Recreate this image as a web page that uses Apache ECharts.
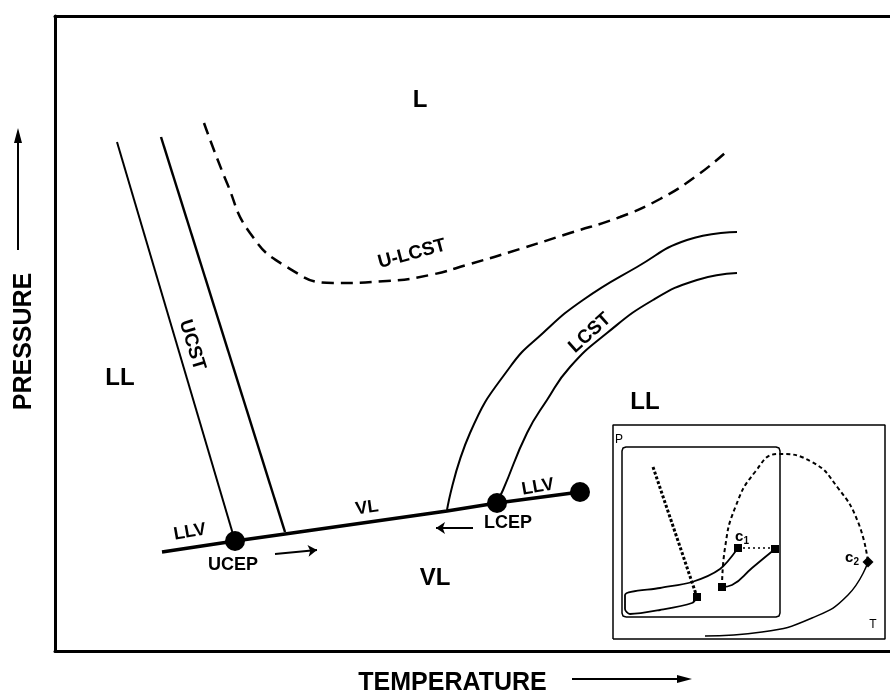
<!DOCTYPE html>
<html>
<head>
<meta charset="utf-8">
<script src="https://cdn.jsdelivr.net/npm/echarts@6/dist/echarts.min.js"></script>
<style>
html, body { margin: 0; padding: 0; background: #fff; }
#main { width: 890px; height: 692px; }
</style>
</head>
<body>
<div id="main"></div>
<script>
// 示意相图：温度 T（横轴）、压力 P（纵轴），单位为示意单位，无刻度
var threePhase = [[107,99],[180,110],[230,117],[392,140],[442,148],[525,159]];
var ucstLeft   = [[62,509],[180,110]];
var ucstRight  = [[106,514],[230,119]];
var ulcst      = [[149,528],[172,468],[195,418],[232,384],[278,368],[332,370],[375,376],[415,387],
                  [465,402],[515,418],[565,434],[605,452],[640,474],[670,498]];
var lcstOuter  = [[392,141],[415,218],[455,284],[488,318],[528,351],[582,384],[632,411],[682,419]];
var lcstInner  = [[442,149],[448,161],[472,218],[492,251],[515,284],[552,318],[598,351],[642,371],[682,378]];
var endPoints  = [[180,110],[442,148],[525,159]];   // UCEP, LCEP, 终点

// 小图 (inset)
var insetBox   = [[558,12],[830,12],[830,226],[558,226],[558,12]];
var insetInner = [[571,34],[721,34],[724,35],[725,38],[725,200],[724,203],[721,204],[571,204],
                  [568,203],[567,200],[567,38],[568,35],[571,34]];
var insetDotted = [[598,184],[642,54]];
var insetBand  = [[683,103],[665,82],[637,69],[605,63],[570,56],[570,42],[575,37],[605,41],[637,48],[642,54]];
var insetDome  = [[667,64],[670,103],[680,143],[700,179],[723,197],[757,189],[783,163],[803,129],[813,89]];
var insetSmall = [[667,64],[677,66],[697,83],[720,102]];
var insetTie   = [[683,103],[720,103]];
var insetC2    = [[813,89],[793,56],[757,33],[707,19],[650,15]];
var insetSquares = [[642,54],[667,64],[720,102],[683,103]];
var insetC2Pt  = [[813,89]];

// 文字标签 [文本, T, P, 旋转角]
var regionLabels = [['L',365,551,0],['LL',65,273,0],['LL',590,249,0],['VL',380,73,0]];
var curveLabels  = [['U-LCST',357,397,15],['UCST',137,306,-73],['LCST',535,318,42]];
var smallLabels  = [['LLV',135,119,10],['VL',312,143,8],['UCEP',178,86,0],['LCEP',453,128,0],['LLV',483,164,10]];
var insetLabels  = [['P',564,211],['T',818,26]];
var critLabels   = [['1',687,114],['2',797,93]];
var shiftArrows  = [[[220,97],[262,101]],[[418,123],[381,123]]];

var FONT = '"Liberation Sans", Arial, sans-serif';
var INK = '#000';

function line(data, width, type, smooth) {
    return {
        type: 'line', data: data, showSymbol: false, smooth: smooth || false,
        lineStyle: { color: INK, width: width, type: type || 'solid', opacity: 1 },
        silent: true, z: 3
    };
}

function textItems(list, size, weight) {
    return list.map(function (d) {
        return {
            value: [d[1], d[2]],
            label: {
                show: true, position: 'inside', formatter: d[0], rotate: d[3] || 0,
                fontSize: size, fontWeight: weight, fontFamily: FONT, color: INK, opacity: 1
            }
        };
    });
}

var critItems = critLabels.map(function (d) {
    return {
        value: [d[1], d[2]],
        label: {
            show: true, position: 'inside', formatter: '{c|c}{s|' + d[0] + '}', opacity: 1,
            rich: {
                c: { fontSize: 15, fontWeight: 'bold', fontFamily: FONT, color: INK },
                s: { fontSize: 10, fontWeight: 'bold', fontFamily: FONT, color: INK, padding: [8, 0, 0, 0] }
            }
        }
    };
});

var frameLine = { show: true, lineStyle: { color: INK, width: 3 } };
var hidden = { show: false };

var myChart = echarts.init(document.getElementById('main'));

var option = {
    animation: false,
    backgroundColor: '#fff',
    grid: { left: 55, top: 16, right: 0, height: 635, outerBoundsMode: 'none', containLabel: false },
    xAxis: [{
        type: 'value', min: 0, max: 835,
        name: 'TEMPERATURE', nameLocation: 'middle', nameGap: 20,
        nameTextStyle: { fontSize: 25, fontWeight: 'bold', fontFamily: FONT, color: INK, padding: [0, 40, 0, 0] },
        axisLine: frameLine, axisTick: hidden, axisLabel: hidden, splitLine: hidden
    }, {
        type: 'value', min: 0, max: 835, position: 'top',
        axisLine: frameLine, axisTick: hidden, axisLabel: hidden, splitLine: hidden
    }],
    yAxis: {
        type: 'value', min: 0, max: 635,
        name: 'PRESSURE', nameLocation: 'middle', nameGap: 18, nameRotate: 90,
        nameTextStyle: { fontSize: 25, fontWeight: 'bold', fontFamily: FONT, color: INK, padding: [0, 16, 0, 0] },
        axisLine: frameLine, axisTick: hidden, axisLabel: hidden, splitLine: hidden
    },
    graphic: [
        // 坐标轴方向箭头
        { type: 'line', shape: { x1: 18, y1: 250, x2: 18, y2: 138 }, style: { stroke: INK, lineWidth: 2 } },
        { type: 'polygon', shape: { points: [[18, 128], [14, 143], [22, 143]] }, style: { fill: INK } },
        { type: 'line', shape: { x1: 572, y1: 679, x2: 680, y2: 679 }, style: { stroke: INK, lineWidth: 2 } },
        { type: 'polygon', shape: { points: [[692, 679], [677, 675], [677, 683]] }, style: { fill: INK } }
    ],
    series: [
        line(threePhase, 3.5),
        line(ucstLeft, 2),
        line(ucstRight, 2.5),
        line(ulcst, 2.5, [12, 7], true),
        line(lcstOuter, 2, 'solid', true),
        line(lcstInner, 2, 'solid', true),
        {
            type: 'scatter', data: endPoints, symbol: 'circle', symbolSize: 20,
            itemStyle: { color: INK, opacity: 1 }, z: 5, silent: true
        },
        {
            type: 'lines', coordinateSystem: 'cartesian2d', silent: true,
            data: shiftArrows.map(function (c) { return { coords: c }; }),
            symbol: ['none', 'arrow'], symbolSize: [0, 9],
            lineStyle: { color: INK, width: 1.8, opacity: 1 }
        },
        // inset
        line(insetBox, 1.5),
        line(insetInner, 1.5),
        line(insetDotted, 3, [3, 2]),
        line(insetBand, 1.8, 'solid', 0.3),
        line(insetDome, 2, [4, 3], true),
        line(insetSmall, 1.8, 'solid', true),
        line(insetTie, 1.5, [2, 3]),
        line(insetC2, 1.5, 'solid', true),
        {
            type: 'scatter', data: insetSquares, symbol: 'rect', symbolSize: 8,
            itemStyle: { color: INK, opacity: 1 }, z: 5, silent: true
        },
        {
            type: 'scatter', data: insetC2Pt, symbol: 'diamond', symbolSize: 11,
            itemStyle: { color: INK, opacity: 1 }, z: 5, silent: true
        },
        // labels
        {
            type: 'scatter', symbolSize: 1, itemStyle: { color: 'rgba(0,0,0,0)', opacity: 1 }, silent: true, z: 6,
            data: textItems(regionLabels, 24, 'bold')
                .concat(textItems(curveLabels, 19, 'bold'))
                .concat(textItems(smallLabels, 18, 'bold'))
                .concat(textItems(insetLabels, 12, 'normal'))
                .concat(critItems)
        }
    ]
};

myChart.setOption(option);
</script>
</body>
</html>
